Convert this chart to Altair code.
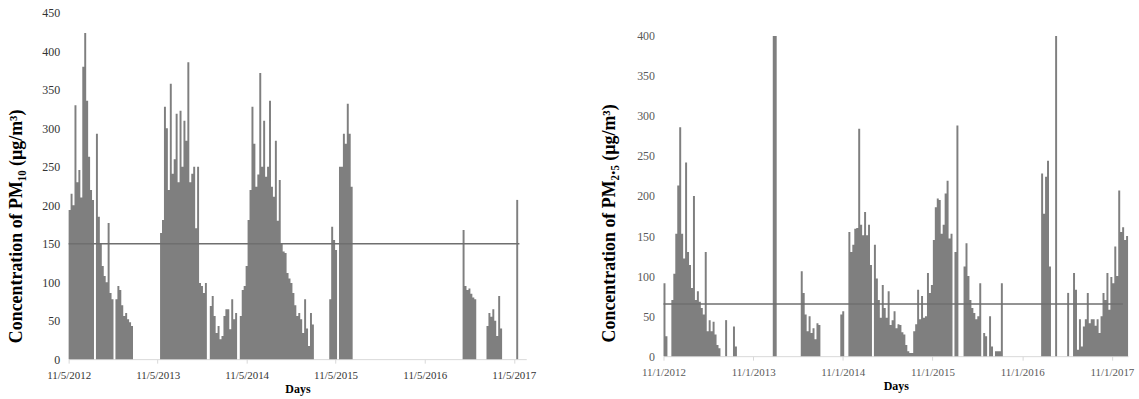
import altair as alt
import pandas as pd

# Each reading covers an 8-day period; None marks periods without data.
BIN_DAYS = 8
GRAY = "#7f7f7f"
SERIF = "Liberation Serif"

PM10_SEGMENTS = [
    ("2012-11-05", [194, 215, 200, 330, 230, 246, 210, 380, 424, 336, 263, 220, 207, None, 293,
                    185, 150, 121, 108, 100, 177, 86, 78, None, 78, 95, 90, 70, 56, 60, 52, 48, 43]),
    ("2013-11-15", [164, 181, 328, 300, 220, 358, 241, 260, 319, 230, 323, 250, 310, 284, 386,
                    230, 241, 250, 170, 250, 99, 95, 86, 99]),
    ("2014-06-07", [69, 82, 56, 34, 43, 26, 30, 56, 65, 65, 39, 78, 52, 60]),
    ("2014-10-08", [56, 90, 95, 121, 181, 220, 328, 280, 224, 240, 372, 250, 310, 237, 250, 336,
                    224, 211, 284, 180, 233, 150, 140, 138, 112, 105, 99, 86, 70, 56, 60, 52, 34,
                    78, 40, 17, 60, 45]),
    ("2015-10-10", [78, 172, 155, 142, None, 250, 250, 293, 280, 332, 293, 224]),
    ("2017-04-09", [168, 95, 90, 92, 85, 80, 78]),
    ("2017-07-16", [43, 60, 55, 65, 50, 30, 82, 40]),
    ("2017-11-15", [207]),
]

PM25_SEGMENTS = [
    ("2012-11-01", [91, 25]),
    ("2012-12-03", [70, 103, 153, 213, 286, 153, 122, 242, 130, 114, 85, 200, 70, 81, 68, 60, 52,
                    130, 31, 45, 31, 43, 27, 14, 10]),
    ("2013-07-10", [45]),
    ("2013-08-11", [37, 12]),
    ("2014-01-20", [400, 400]),
    ("2014-05-14", [106, 79, 52, 31, 50, 29, 35, 21, 41, 39]),
    ("2014-10-22", [52, 56]),
    ("2014-11-24", [155, 130, 139, 159, 160, 284, 164, 151, 180, 151, 164, 114, None, 139, 97, 70,
                    48, 89, 60, 48, 81, 39, 45, 56, 35, 40, 39, 30, 27, 14, 6, 4, 4, 31, 40, 83,
                    46, 75, 48, 50, 104, 79, 89, 145, 186, 197, 195, 153, 164, 203, 219, 147, 153,
                    None, 130, 288]),
    ("2016-03-07", [112, 141, 100, 70, 60, 54, 46, 50, 91, None, 29, 25, None, 50, 12, None, 6, 6,
                    6, 91]),
    ("2017-01-17", [228, 178, 224, 244, 112]),
    ("2017-03-15", [400]),
    ("2017-05-03", [79]),
    ("2017-05-27", [104, 83, 8, 46, 12, 37, 46, 79, 41, 46, 46, 38, 46, 29, 50, 79, 70, 104, 58,
                    99, 91, 137, 100, 207, 155, 161, 145, 150]),
]

# Daily limit values drawn as horizontal reference lines
PM10_LIMIT = {"start": "2012-11-05", "end": "2017-11-28", "value": 150}
PM25_LIMIT = {"start": "2012-11-01", "end": "2017-12-16", "value": 65}

PM10_TICK_YEARS = [2012, 2013, 2014, 2015, 2016, 2017]
PM25_TICK_YEARS = [2012, 2013, 2014, 2015, 2016, 2017]


def to_frame(segments):
    """Step-area points: one path per unbroken run of readings."""
    rows = []
    run = 0
    for start, values in segments:
        t0 = pd.Timestamp(start)
        open_run = False
        last = None
        for i, v in enumerate(values):
            s = t0 + pd.Timedelta(days=BIN_DAYS * i)
            if v is None:
                if open_run:
                    rows.append({"t": s.strftime("%Y-%m-%d"), "value": last, "run": run})
                    run += 1
                    open_run = False
                continue
            rows.append({"t": s.strftime("%Y-%m-%d"), "value": v, "run": run})
            open_run = True
            last = v
        if open_run:
            e = t0 + pd.Timedelta(days=BIN_DAYS * len(values))
            rows.append({"t": e.strftime("%Y-%m-%d"), "value": last, "run": run})
            run += 1
    return pd.DataFrame(rows)


def utc_date(y, m, d):
    return alt.DateTime(year=y, month=m, date=d, utc=True)


def panel(segments, limit, tick_years, tick_day, x_end, y_max, y_ticks, y_title,
          width, height, label_color, title_y, title_pad):
    df = to_frame(segments)
    xscale = alt.Scale(type="utc", domain=[utc_date(2012, 11, tick_day), x_end])
    yscale = alt.Scale(domain=[0, y_max], nice=False, zero=True)
    xaxis = alt.Axis(
        values=[utc_date(y, 11, tick_day) for y in tick_years],
        labelExpr="utcFormat(datum.value, '%-m/%-d/%Y')",
        grid=False, domainColor="#d9d9d9", tickColor="#d9d9d9", tickSize=4,
        labelFont=SERIF, labelFontSize=11, labelColor=label_color, labelPadding=6,
        labelOverlap=False, labelFlush=False,
        titleFont=SERIF, titleFontSize=12, titleFontWeight="bold",
        titleColor="#000000", titlePadding=4,
    )
    yaxis = alt.Axis(
        values=y_ticks, grid=False, domain=False, ticks=False,
        labelFont=SERIF, labelFontSize=12, labelColor=label_color, labelPadding=9,
        labelOverlap=False, labelFlush=False,
        titleFont=SERIF, titleFontSize=18, titleFontWeight="bold", titleColor="#000000",
        titlePadding=title_pad, titleY=title_y,
    )
    area = alt.Chart(df).mark_area(interpolate="step-after", color=GRAY, opacity=1).encode(
        x=alt.X("t:T", scale=xscale, axis=xaxis, title="Days"),
        y=alt.Y("value:Q", scale=yscale, axis=yaxis, title=y_title, stack=None),
        detail="run:N",
    )
    rule = alt.Chart(pd.DataFrame([limit])).mark_rule(color="#6f6f6f", strokeWidth=1.5).encode(
        x=alt.X("start:T", scale=xscale, axis=xaxis, title="Days"),
        x2="end:T",
        y=alt.Y("value:Q", scale=yscale, axis=yaxis, title=y_title),
    )
    return alt.layer(area, rule).properties(width=width, height=height)


left = panel(PM10_SEGMENTS, PM10_LIMIT, PM10_TICK_YEARS, 5, utc_date(2017, 12, 26),
             450, list(range(0, 451, 50)), "Concentration of PM₁₀ (µg/m³)",
             460, 348, "#333333", 214, 16)
right = panel(PM25_SEGMENTS, PM25_LIMIT, PM25_TICK_YEARS, 1, utc_date(2018, 1, 6),
              428.6, list(range(0, 401, 50)), "Concentration of PM₂.₅ (µg/m³)",
              467, 345, "#595959", 211, 18)

chart = alt.hconcat(left, right, spacing=65).properties(
    padding={"left": 8, "top": 6, "right": 5, "bottom": 0},
    background="white",
).configure_view(stroke=None)

chart.save("out.html", embed_options={"renderer": "svg", "actions": False})
